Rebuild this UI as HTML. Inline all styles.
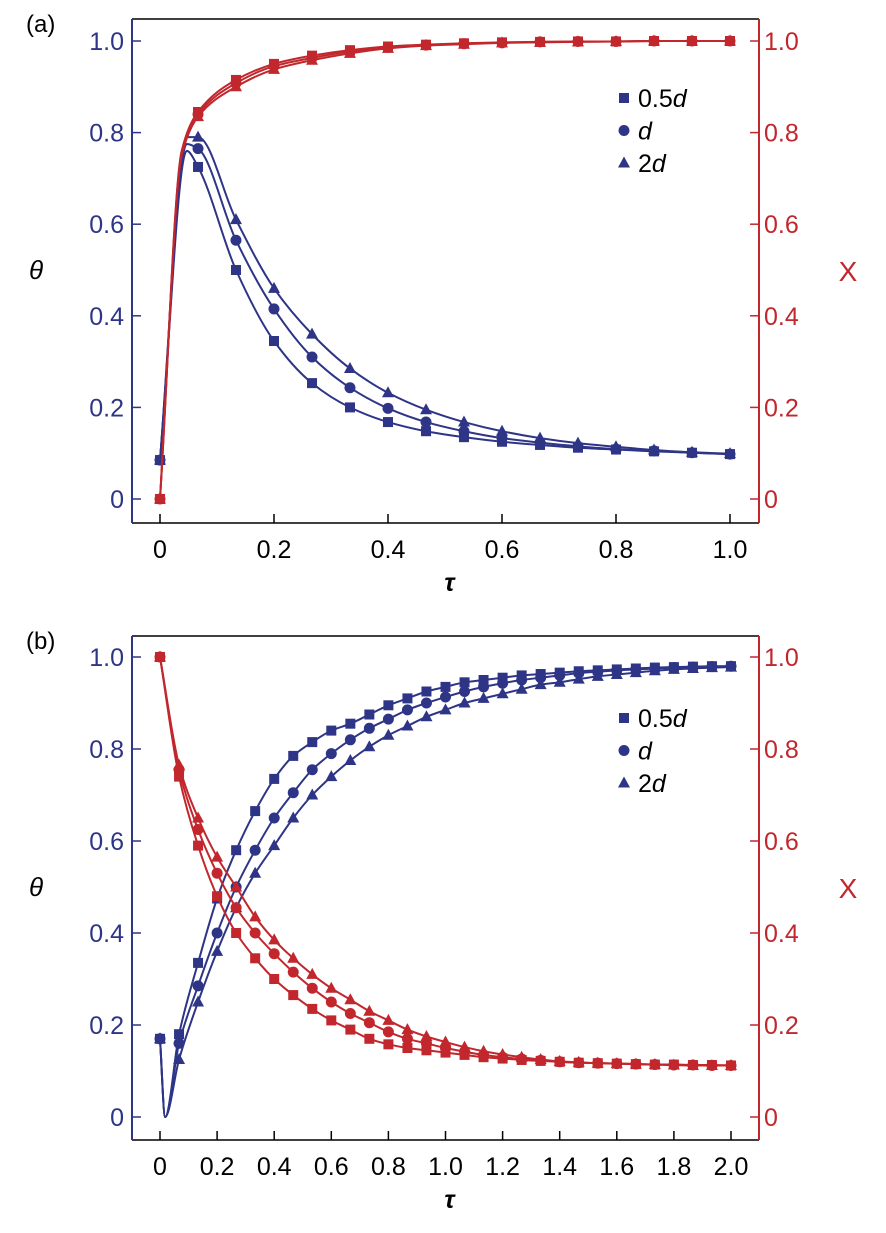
<!DOCTYPE html>
<html><head><meta charset="utf-8"><style>
body{margin:0;background:#fff}
svg text{font-family:"Liberation Sans",sans-serif}
</style></head><body>
<svg id="c" width="886" height="1228" xmlns="http://www.w3.org/2000/svg"></svg>
<script>
// ---- data ----
const tauA = [0,0.0667,0.1333,0.2,0.2667,0.3333,0.4,0.4667,0.5333,0.6,0.6667,0.7333,0.8,0.8667,0.9333,1.0];
const thetaA_half = [0.085,0.725,0.50,0.345,0.253,0.20,0.168,0.148,0.135,0.125,0.118,0.112,0.108,0.104,0.101,0.098];
const thetaA_d    = [0.085,0.765,0.565,0.415,0.31,0.243,0.198,0.168,0.148,0.133,0.123,0.115,0.109,0.105,0.101,0.098];
const thetaA_2d   = [0.085,0.79,0.61,0.46,0.36,0.285,0.232,0.195,0.168,0.148,0.133,0.122,0.114,0.107,0.102,0.099];
const thetaA_peakTau = 0.047;
const thetaA_peak = [0.76,0.775,0.79];
const chiA_half = [0,0.845,0.915,0.95,0.968,0.98,0.988,0.992,0.995,0.997,0.998,0.999,0.999,1,1,1];
const chiA_d    = [0,0.84,0.908,0.945,0.963,0.977,0.986,0.991,0.994,0.996,0.998,0.999,0.999,1,1,1];
const chiA_2d   = [0,0.835,0.90,0.938,0.958,0.973,0.984,0.99,0.993,0.996,0.997,0.998,0.999,1,1,1];
const chiA_earlyTau = 0.038;
const chiA_early = [0.76,0.755,0.75];
const tauB = [0,0.0667,0.1333,0.2,0.2667,0.3333,0.4,0.4667,0.5333,0.6,0.6667,0.7333,0.8,0.8667,0.9333,1.0,1.0667,1.1333,1.2,1.2667,1.3333,1.4,1.4667,1.5333,1.6,1.6667,1.7333,1.8,1.8667,1.9333,2.0];
const thetaB_half = [0.17,0.18,0.335,0.475,0.58,0.665,0.735,0.785,0.815,0.84,0.855,0.875,0.895,0.91,0.925,0.935,0.945,0.95,0.955,0.96,0.963,0.966,0.969,0.971,0.973,0.975,0.977,0.978,0.979,0.98,0.98];
const thetaB_d    = [0.17,0.16,0.285,0.40,0.50,0.58,0.65,0.705,0.755,0.79,0.82,0.845,0.865,0.885,0.90,0.913,0.925,0.935,0.943,0.95,0.955,0.96,0.965,0.968,0.971,0.973,0.975,0.977,0.978,0.979,0.98];
const thetaB_2d   = [0.17,0.125,0.25,0.36,0.455,0.53,0.59,0.65,0.70,0.74,0.775,0.805,0.83,0.85,0.87,0.885,0.90,0.91,0.92,0.93,0.94,0.945,0.952,0.958,0.962,0.966,0.97,0.973,0.975,0.977,0.978];
const thetaB_dipTau = 0.018;
const thetaB_dip = [0,0,0];
const chiB_half = [1,0.74,0.59,0.48,0.40,0.345,0.30,0.265,0.235,0.21,0.19,0.17,0.158,0.15,0.145,0.14,0.135,0.13,0.127,0.124,0.122,0.12,0.118,0.117,0.116,0.115,0.114,0.114,0.113,0.113,0.112];
const chiB_d    = [1,0.755,0.625,0.53,0.455,0.40,0.355,0.315,0.28,0.25,0.225,0.205,0.185,0.17,0.16,0.15,0.142,0.135,0.13,0.126,0.123,0.12,0.118,0.117,0.116,0.115,0.114,0.113,0.113,0.112,0.112];
const chiB_2d   = [1,0.765,0.65,0.565,0.50,0.435,0.385,0.345,0.31,0.28,0.255,0.23,0.21,0.19,0.175,0.163,0.152,0.143,0.136,0.13,0.125,0.121,0.119,0.117,0.116,0.115,0.114,0.113,0.112,0.112,0.112];
const yTicks = [0,0.2,0.4,0.6,0.8,1.0];
const yTickLabels = ["0","0.2","0.4","0.6","0.8","1.0"];
const xTicksA = [0,0.2,0.4,0.6,0.8,1.0];
const xTickLabelsA = ["0","0.2","0.4","0.6","0.8","1.0"];
const xTicksB = [0,0.2,0.4,0.6,0.8,1.0,1.2,1.4,1.6,1.8,2.0];
const xTickLabelsB = ["0","0.2","0.4","0.6","0.8","1.0","1.2","1.4","1.6","1.8","2.0"];
const seriesNames = ["0.5d","d","2d"];
const markers = ["square","circle","triangle"];

const BLUE="#2e3586", RED="#c1272d";
const svg=document.getElementById('c');
const NS="http://www.w3.org/2000/svg";
function el(tag,attrs,parent){const e=document.createElementNS(NS,tag);for(const k in attrs)e.setAttribute(k,attrs[k]);(parent||svg).appendChild(e);return e;}
// monotone cubic (Fritsch-Carlson)
function pathD(pts){
  const n=pts.length, dx=[], s=[], m=[];
  for(let i=0;i<n-1;i++){dx[i]=pts[i+1][0]-pts[i][0];s[i]=(pts[i+1][1]-pts[i][1])/dx[i];}
  m[0]=s[0];m[n-1]=s[n-2];
  for(let i=1;i<n-1;i++){
    if(s[i-1]*s[i]<=0)m[i]=0;
    else{const w1=2*dx[i]+dx[i-1],w2=dx[i]+2*dx[i-1];m[i]=(w1+w2)/(w1/s[i-1]+w2/s[i]);}
  }
  let d=`M${pts[0][0]},${pts[0][1]}`;
  for(let i=0;i<n-1;i++){
    const h=dx[i]/3;
    d+=` C${pts[i][0]+h},${pts[i][1]+m[i]*h} ${pts[i+1][0]-h},${pts[i+1][1]-m[i+1]*h} ${pts[i+1][0]},${pts[i+1][1]}`;
  }
  return d;
}
function marker(g,type,x,y,col){
  let m;
  if(type==="square") m=el('rect',{x:x-5,y:y-5,width:10,height:10,fill:col},g);
  else if(type==="circle") m=el('circle',{cx:x,cy:y,r:5.5,fill:col},g);
  else m=el('polygon',{points:`${x},${y-6.5} ${x+6},${y+4.5} ${x-6},${y+4.5}`,fill:col},g);
  
  
}
function panel(o){
  const g=el('g',{});
  
  
  const sx=v=>o.x0+(v-o.xmin)/(o.xmax-o.xmin)*(o.x1-o.x0);
  const sy=v=>o.y0-v*(o.y0-o.y1);
  const top=el('line',{x1:o.L,y1:o.T,x2:o.R,y2:o.T,stroke:'#000','stroke-width':1.5},g);
  
  const bot=el('line',{x1:o.L,y1:o.B,x2:o.R,y2:o.B,stroke:'#000','stroke-width':1.5},g);
  
  const la=el('line',{x1:o.L,y1:o.T,x2:o.L,y2:o.B,stroke:BLUE,'stroke-width':2},g);
  
  const ra=el('line',{x1:o.R,y1:o.T,x2:o.R,y2:o.B,stroke:RED,'stroke-width':2},g);
  
  yTicks.forEach((v,i)=>{
    const y=sy(v);
    el('line',{x1:o.L,y1:y,x2:o.L+9,y2:y,stroke:BLUE,'stroke-width':1.5},g);
    el('line',{x1:o.R,y1:y,x2:o.R-9,y2:y,stroke:RED,'stroke-width':1.5},g);
    const t1=el('text',{x:o.L-8,y:y+9,'text-anchor':'end','font-size':25,fill:BLUE},g);t1.textContent=yTickLabels[i];
    
    const t2=el('text',{x:o.R+5,y:y+9,'font-size':25,fill:RED},g);t2.textContent=yTickLabels[i];
    
  });
  o.xt.forEach((v,i)=>{
    const x=sx(v);
    el('line',{x1:x,y1:o.B,x2:x,y2:o.B-9,stroke:'#000','stroke-width':1.5},g);
    const t=el('text',{x:x,y:o.B+35,'text-anchor':'middle','font-size':25,fill:'#000'},g);t.textContent=o.xl[i];
    
  });
  const lab=el('text',{x:o.L-106,y:o.T+13,'font-size':24},g);lab.textContent=o.label;
  
  const yl=el('text',{x:36,y:(o.T+o.B)/2+8,'font-size':26,'font-style':'italic','text-anchor':'middle'},g);yl.textContent='θ';
  
  const yr=el('text',{x:848,y:(o.T+o.B)/2+10,'font-size':28,fill:RED,'text-anchor':'middle'},g);yr.textContent='X';
  
  const xl=el('text',{x:(o.L+o.R)/2+4,y:o.B+68,'font-size':25,'font-style':'italic','font-weight':'bold','text-anchor':'middle'},g);xl.textContent='τ';
  
  const draw=(tau,vals,extraTau,extraVal,col,mk)=>{
    const pts=tau.map((t,i)=>[sx(t),sy(vals[i])]);
    if(extraTau!=null){pts.splice(1,0,[sx(extraTau),sy(extraVal)]);}
    const p=el('path',{d:pathD(pts),fill:'none',stroke:col,'stroke-width':2},g);
    
    tau.forEach((t,i)=>marker(g,mk,sx(t),sy(vals[i]),col));
  };
  o.theta.forEach((s,k)=>draw(o.tau,s,o.exTau,o.exVal[k],BLUE,markers[k]));
  o.chi.forEach((s,k)=>draw(o.tau,s,o.chiExTau,o.chiExVal?o.chiExVal[k]:null,RED,markers[k]));
  seriesNames.forEach((n,k)=>{
    const y=o.legY+k*32.5;
    marker(g,markers[k],o.legX,y,BLUE);
    const t=el('text',{x:o.legX+14,y:y+9,'font-size':25,fill:'#000'},g);
    const base=n.replace('d','');
    t.innerHTML=base+'<tspan font-style="italic">d</tspan>';
    
  });
}
panel({name:'panel-a',label:'(a)',L:132,R:759,T:19,B:523,x0:160,x1:730,xmin:0,xmax:1,y0:499,y1:41,
  xt:xTicksA,xl:xTickLabelsA,tau:tauA,theta:[thetaA_half,thetaA_d,thetaA_2d],exTau:thetaA_peakTau,exVal:thetaA_peak,
  chi:[chiA_half,chiA_d,chiA_2d],chiExTau:chiA_earlyTau,chiExVal:chiA_early,legX:624,legY:98});
panel({name:'panel-b',label:'(b)',L:132,R:759,T:636,B:1140,x0:160,x1:731,xmin:0,xmax:2,y0:1117,y1:657,
  xt:xTicksB,xl:xTickLabelsB,tau:tauB,theta:[thetaB_half,thetaB_d,thetaB_2d],exTau:thetaB_dipTau,exVal:thetaB_dip,
  chi:[chiB_half,chiB_d,chiB_2d],chiExTau:null,chiExVal:null,legX:624,legY:718});
</script>
</body></html>
